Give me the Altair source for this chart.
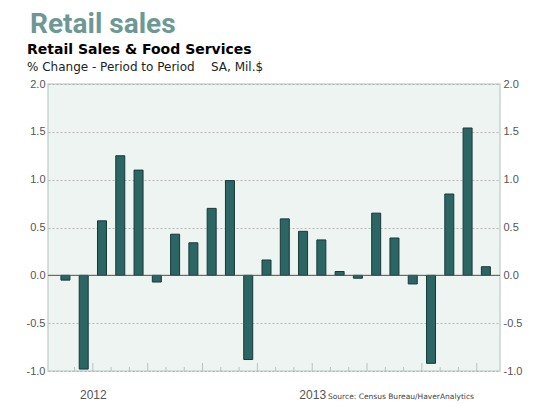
import altair as alt
import pandas as pd

values = [-0.05, -0.98, 0.57, 1.25, 1.10, -0.07, 0.43, 0.34, 0.70, 0.99,
          -0.88, 0.16, 0.59, 0.46, 0.37, 0.04, -0.03, 0.65, 0.39, -0.09,
          -0.92, 0.85, 1.54, 0.09]
year_labels = ["2012", "2013"]
year_starts = [2, 14]
y_ticks = [-1.0, -0.5, 0.0, 0.5, 1.0, 1.5, 2.0]

bars = pd.DataFrame({"pos": [i + 0.5 for i in range(len(values))], "val": values})
ticks = pd.DataFrame({"pos": list(range(1, len(values)))})
ticks["tall"] = ticks["pos"] % 3 == 2

W, H = 452, 287
xs = alt.Scale(domain=[-0.18, 24], nice=False, zero=False)
ys = alt.Scale(domain=[-1, 2], nice=False, zero=False)
FONT = "DejaVu Sans"
AXFONT = "Liberation Sans"

label_expr = ("datum.value == %d ? '%s' : (datum.value == %d ? '%s' : '')"
              % (year_starts[0], year_labels[0], year_starts[1], year_labels[1]))
y_label_expr = "replace(format(datum.value, '.1f'), '\u2212', '-')"

base_bars = alt.Chart(bars).mark_bar(
    width=9, color="#2b6664", stroke="#173838", strokeWidth=1
).encode(
    x=alt.X("pos:Q", scale=xs, axis=alt.Axis(
        values=year_starts, labelExpr=label_expr, ticks=False, domain=False,
        grid=False, title=None, labelPadding=18, labelFontSize=12,
        labelColor="#555555", labelFont=AXFONT, orient="bottom")),
    y=alt.Y("val:Q", scale=ys, axis=alt.Axis(
        values=y_ticks, labelExpr=y_label_expr, title=None, ticks=False,
        domain=False, grid=True, gridColor="#a8a8a8", gridDash=[2, 2],
        gridWidth=0.8, labelFontSize=11, labelColor="#555555",
        labelPadding=3, labelFont=AXFONT, orient="left")),
)

right_axis = alt.Chart(bars).mark_point(opacity=0).encode(
    x=alt.X("pos:Q", scale=xs, axis=None),
    y=alt.Y("val:Q", scale=ys, axis=alt.Axis(
        values=y_ticks, labelExpr=y_label_expr, title=None, ticks=False,
        domain=False, grid=False, labelFontSize=11, labelColor="#555555",
        labelPadding=3, labelFont=AXFONT, orient="right")),
)

zero = alt.Chart(pd.DataFrame({"z": [0.0]})).mark_rule(
    color="#555555", strokeWidth=1).encode(y=alt.Y("z:Q", scale=ys, axis=None))

short_ticks = alt.Chart(ticks[~ticks["tall"]]).mark_rule(
    color="#b5c5bf", strokeWidth=1).encode(
    x=alt.X("pos:Q", scale=xs, axis=None), y=alt.value(H), y2=alt.value(H - 4))
tall_ticks = alt.Chart(ticks[ticks["tall"]]).mark_rule(
    color="#b5c5bf", strokeWidth=1).encode(
    x=alt.X("pos:Q", scale=xs, axis=None), y=alt.value(H), y2=alt.value(H - 8))

def txt(s, x, y, size, color, weight="normal", font=FONT):
    return alt.Chart(pd.DataFrame({"t": [s]})).mark_text(
        align="left", baseline="alphabetic", fontSize=size, color=color,
        fontWeight=weight, font=font
    ).encode(text="t:N", x=alt.value(x), y=alt.value(y))

t1 = txt("Retail sales", -18, -51, 28, "#6e9896", "bold", font="Roboto")
t2 = txt("Retail Sales & Food Services", -21, -30, 14, "#000000", "bold")
t3 = txt("% Change - Period to Period", -21, -13, 12, "#222222")
t4 = txt("SA, Mil.$", 163, -13, 12, "#222222")
src = txt("Source: Census Bureau/HaverAnalytics", 280, 315, 7.5, "#444444")

chart = alt.layer(
    base_bars, zero, short_ticks, tall_ticks, right_axis, t1, t2, t3, t4, src
).resolve_axis(x="independent", y="independent").properties(
    width=W, height=H,
    autosize=alt.AutoSizeParams(type="none"),
    padding={"left": 40, "top": 76, "right": 26, "bottom": 30},
    background="#ffffff",
).configure_view(
    fill="#eef4f1", stroke="#c5d6d0", strokeWidth=1.5
)

chart.save("out.html", embed_options={"renderer": "svg", "actions": False})
